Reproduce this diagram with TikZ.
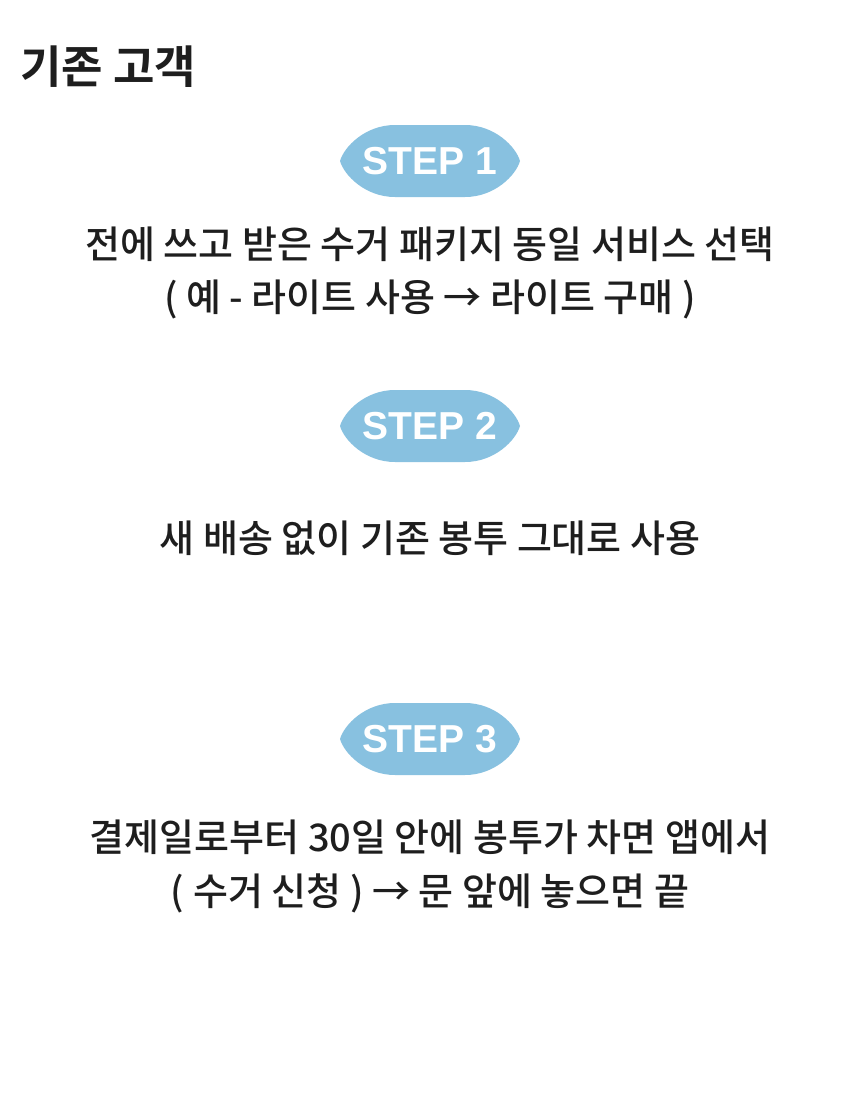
\documentclass[tikz,border=0pt]{standalone}
\usepackage{fontspec}
\setmainfont{Noto Sans CJK KR}[UprightFont=* Medium, BoldFont=* Bold]
\newfontfamily\badgefont{Liberation Sans}
\definecolor{badgeblue}{HTML}{88C1E0}
\definecolor{txtcol}{HTML}{1E1E1E}
\tikzset{
  bodytext/.style={inner sep=0pt, text=txtcol, font=\fontsize{38}{44}\selectfont, anchor=center},
  titletext/.style={inner sep=0pt, text=txtcol, font=\fontsize{45}{52}\selectfont\bfseries, anchor=west},
  badgetext/.style={inner sep=0pt, text=white, font=\badgefont\fontsize{39}{44}\selectfont\bfseries, anchor=center},
  badgefill/.style={fill=badgeblue, draw=none}
}
\newcommand{\badgeshape}[2]{%
  \path[badgefill, shift={(#1,#2)}]
    (-35,-36) -- (35,-36)
    .. controls (65,-36) and (86,-14) .. (90,0)
    .. controls (86,14) and (65,36) .. (35,36)
    -- (-35,36)
    .. controls (-65,36) and (-86,14) .. (-90,0)
    .. controls (-86,-14) and (-65,-36) .. (-35,-36) -- cycle;}
\begin{document}
\begin{tikzpicture}[x=1pt,y=-1pt]
\useasboundingbox[fill=white] (0,0) rectangle (860,1100);
\node[titletext] (title) at (20,67) {기존 고객};

\badgeshape{430}{161}
\node[badgetext] (s1) at (430,161) {STEP 1};
\node[bodytext] (t1a) at (430,244) {전에 쓰고 받은 수거 패키지 동일 서비스 선택};
\node[bodytext] (t1b) at (430,299) {( 예 - 라이트 사용 → 라이트 구매 )};

\badgeshape{430}{426}
\node[badgetext] (s2) at (430,426) {STEP 2};
\node[bodytext] (t2) at (430,538) {새 배송 없이 기존 봉투 그대로 사용};

\badgeshape{430}{739}
\node[badgetext] (s3) at (430,739) {STEP 3};
\node[bodytext] (t3a) at (430,837) {결제일로부터 30일 안에 봉투가 차면 앱에서};
\node[bodytext] (t3b) at (430,893) {( 수거 신청 ) → 문 앞에 놓으면 끝};
\end{tikzpicture}
\end{document}
